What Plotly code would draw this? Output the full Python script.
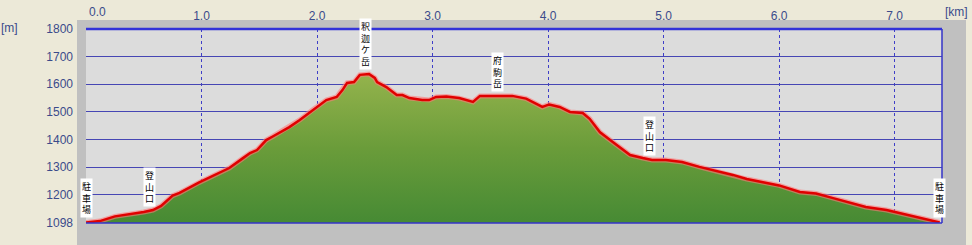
import numpy as np
import plotly.graph_objects as go

# ---------------- data ----------------
dist_km = [0.00, 0.12, 0.25, 0.40, 0.50, 0.58, 0.65, 0.75, 0.81, 0.98,
           1.10, 1.24, 1.35, 1.42, 1.48, 1.56, 1.62, 1.76, 1.85, 1.96,
           2.08, 2.17, 2.22, 2.26, 2.32, 2.37, 2.45, 2.50, 2.52, 2.60,
           2.69, 2.74, 2.80, 2.91, 2.97, 3.03, 3.12, 3.23, 3.35, 3.41,
           3.52, 3.69, 3.81, 3.90, 3.95, 4.01, 4.10, 4.19, 4.30, 4.36,
           4.45, 4.56, 4.71, 4.82, 4.90, 5.02, 5.16, 5.31, 5.46, 5.60,
           5.72, 6.00, 6.18, 6.32, 6.46, 6.75, 6.93, 7.04, 7.19, 7.30, 7.39]
elev_m = [1100, 1105, 1122, 1130, 1138, 1145, 1160, 1197, 1207, 1245,
          1270, 1297, 1330, 1351, 1362, 1398, 1412, 1445, 1471, 1507,
          1543, 1554, 1579, 1605, 1608, 1634, 1637, 1623, 1608, 1590,
          1561, 1561, 1550, 1543, 1543, 1554, 1556, 1550, 1536, 1558,
          1558, 1558, 1548, 1530, 1518, 1527, 1518, 1500, 1496, 1475,
          1426, 1391, 1344, 1333, 1326, 1326, 1319, 1301, 1286, 1272,
          1257, 1234, 1210, 1205, 1189, 1156, 1145, 1134, 1120, 1109, 1100]

x_tick_vals = [0, 1, 2, 3, 4, 5, 6, 7]
x_tick_text = ["0.0", "1.0", "2.0", "3.0", "4.0", "5.0", "6.0", "7.0"]
y_tick_vals = [1098, 1200, 1300, 1400, 1500, 1600, 1700, 1800]
y_tick_text = ["1098", "1200", "1300", "1400", "1500", "1600", "1700", "1800"]

point_labels = ["駐車場", "登山口", "釈迦ケ岳", "府駒岳", "登山口", "駐車場"]
point_km = [0.0, 0.55, 2.42, 3.56, 4.88, 7.39]

# ---------------- layout geometry ----------------
W, H = 972, 245
L, R, T, B = 86, 30, 29, 22
PW, PH = W - L - R, H - T - B


def px(x):
    return (x - L) / PW


def py(y):
    return (H - B - y) / PH


TICK_FONT = dict(family="Liberation Sans", size=12, color="#3B4B8B")

fig = go.Figure()

# filled profile with pink halo line
fig.add_trace(go.Scatter(
    x=dist_km, y=elev_m, mode="lines",
    line=dict(color="rgba(255,120,120,0.6)", width=5),
    fill="tozeroy",
    fillgradient=dict(type="vertical",
                      colorscale=[[0, "#468A34"], [0.5, "#6A9C3A"], [1, "#94B34C"]],
                      start=y_tick_vals[0], stop=max(elev_m)),
    hoverinfo="skip", showlegend=False,
))
# red profile line
fig.add_trace(go.Scatter(
    x=dist_km, y=elev_m, mode="lines",
    line=dict(color="#E00000", width=2.5),
    hoverinfo="skip", showlegend=False,
))

shapes = [
    # gray frame
    dict(type="rect", xref="paper", yref="paper", x0=px(77), x1=px(966),
         y0=py(245), y1=py(20), fillcolor="#C0C0C0", line=dict(width=0), layer="below"),
    # plot area background
    dict(type="rect", xref="paper", yref="paper", x0=0, x1=1, y0=0, y1=1,
         fillcolor="#DCDCDC", line=dict(width=0), layer="below"),
    # border: right, bottom, top
    dict(type="line", xref="paper", yref="paper", x0=1, x1=1, y0=0, y1=1,
         line=dict(color="#3535C8", width=1.5)),
    dict(type="line", xref="paper", yref="paper", x0=0, x1=1, y0=0, y1=0,
         line=dict(color="#3535C8", width=1.5)),
    dict(type="line", xref="paper", yref="paper", x0=0, x1=1, y0=1, y1=1,
         line=dict(color="#3333D8", width=2.5)),
]

annotations = [
    dict(text="[m]", xref="paper", yref="paper", x=px(9), y=py(28),
         xanchor="center", yanchor="middle", showarrow=False, font=TICK_FONT),
    dict(text="[km]", xref="paper", yref="paper", x=px(956), y=py(12),
         xanchor="center", yanchor="middle", showarrow=False, font=TICK_FONT),
    dict(text=x_tick_text[0], xref="paper", yref="paper", x=px(87), y=py(12),
         xanchor="left", yanchor="middle", showarrow=False, font=TICK_FONT),
]

# vertical labels: one character per line, standing on the profile
for name, km in zip(point_labels, point_km):
    y_at = float(np.interp(km, dist_km, elev_m))
    annotations.append(dict(
        text="<br>".join(name), x=km, y=y_at, xref="x", yref="y",
        xanchor="center", yanchor="bottom", yshift=4,
        showarrow=False, bgcolor="white", borderpad=1,
        font=dict(family="Noto Sans CJK JP", size=9, color="black"),
    ))

fig.update_layout(
    width=W, height=H,
    margin=dict(l=L, r=R, t=T, b=B, autoexpand=False),
    paper_bgcolor="#ECE9D8",
    plot_bgcolor="rgba(0,0,0,0)",
    showlegend=False,
    shapes=shapes,
    annotations=annotations,
    xaxis=dict(range=[0, 7.41], side="top", tickvals=x_tick_vals,
               ticktext=[""] + x_tick_text[1:],
               showgrid=True, gridcolor="#3E3EC8", griddash="dot", gridwidth=1,
               zeroline=False, showline=False, ticks="", tickfont=TICK_FONT,
               ticklabelstandoff=6, fixedrange=True),
    yaxis=dict(range=[1098, 1800], tickvals=y_tick_vals, ticktext=y_tick_text,
               showgrid=True, gridcolor="#4646B4", gridwidth=1,
               zeroline=False, showline=False, ticks="", tickfont=TICK_FONT,
               ticklabelstandoff=12, fixedrange=True),
)

fig.write_html("out.html")
